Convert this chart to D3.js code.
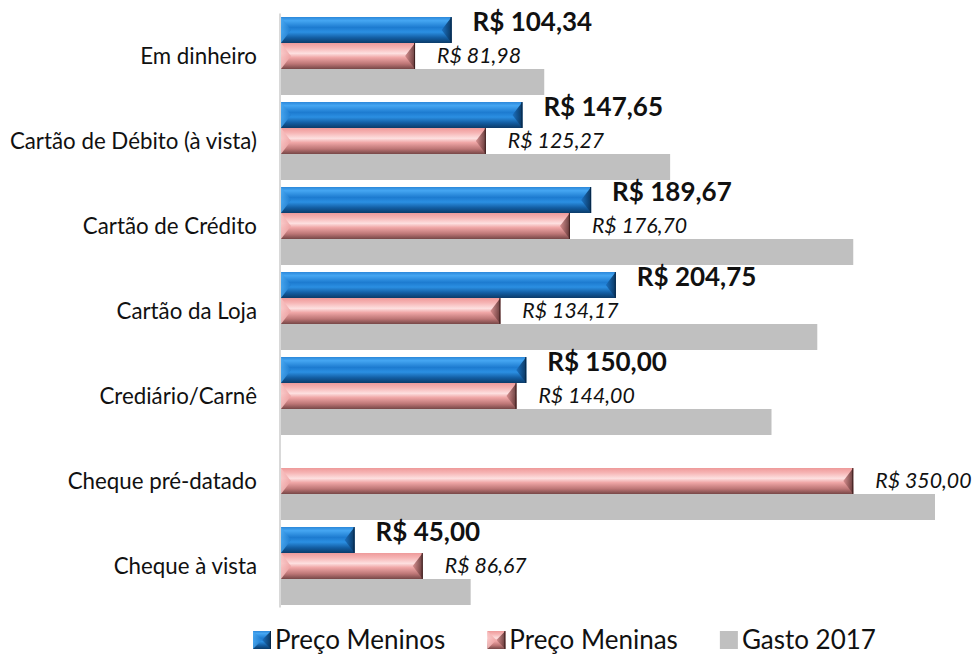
<!DOCTYPE html>
<html>
<head>
<meta charset="utf-8">
<script src="https://cdn.jsdelivr.net/npm/d3@7"></script>
<style>
  html, body { margin: 0; padding: 0; background: #fff; }
  svg { display: block; font-family: Lato, "Open Sans", sans-serif; }
</style>
</head>
<body>
<div id="chart"></div>
<script>
// data
const categories = ['Em dinheiro', 'Cartão de Débito (à vista)', 'Cartão de Crédito',
                    'Cartão da Loja', 'Crediário/Carnê', 'Cheque pré-datado', 'Cheque à vista'];
const seriesNames = ['Preço Meninos', 'Preço Meninas', 'Gasto 2017'];
const precoMeninos = [104.34, 147.65, 189.67, 204.75, 150.00, null, 45.00];
const precoMeninas = [81.98, 125.27, 176.70, 134.17, 144.00, 350.00, 86.67];
const gasto2017    = [161, 238, 350, 328, 300, 400, 116];
const xDomain = [0, 400];

const width = 975, height = 656;

const fmt = v => 'R$ ' + v.toFixed(2).replace('.', ',');

const svg = d3.select('#chart')
    .append('svg')
      .attr('width', width)
      .attr('height', height);

// gradients for the bevelled bars
const defs = svg.append('defs');
const addGrad = (id, stops, horiz) => {
    const g = defs.append('linearGradient')
        .attr('id', id)
        .attr('x1', 0).attr('y1', 0)
        .attr('x2', horiz ? 1 : 0).attr('y2', horiz ? 0 : 1);
    stops.forEach(s => g.append('stop').attr('offset', s[0]).attr('stop-color', s[1]));
};
addGrad('blueV', [[0, '#2c88da'], [0.14, '#45a6f2'], [0.4, '#1d7bd0'], [0.58, '#2b8fe2'],
                  [0.8, '#135da2'], [1, '#0b3b69']]);
addGrad('pinkV', [[0, '#ee9a9a'], [0.18, '#f6b4b4'], [0.4, '#fde0e0'], [0.56, '#efa6a6'],
                  [0.8, '#bd7676'], [1, '#774747']]);
addGrad('blueL', [[0, '#4aa8f0'], [1, '#1f7dd0']], true);
addGrad('pinkL', [[0, '#f8c4c4'], [1, '#eea2a2']], true);
addGrad('blueR', [[0, '#1a6fbf'], [1, '#082f55']], true);
addGrad('pinkR', [[0, '#d48a8a'], [1, '#5a3030']], true);

// scales
const x = d3.scaleLinear().domain(xDomain).range([281, 935]);

const y = d3.scaleBand()
    .domain(categories)
    .range([13.5, 608.5])
    .paddingInner(0.0824)
    .paddingOuter(0.0412);

const ySub = d3.scaleBand()
    .domain(seriesNames)
    .range([0, y.bandwidth()]);

// vertical axis line
svg.append('line')
    .attr('x1', 280).attr('x2', 280)
    .attr('y1', y.range()[0]).attr('y2', y.range()[1] - 1)
    .attr('stroke', '#d9d9d9')
    .attr('stroke-width', 2);

// category labels
svg.append('g')
    .selectAll('text')
    .data(categories)
    .enter()
    .append('text')
      .attr('x', 257)
      .attr('y', d => y(d) + ySub(seriesNames[1]) + ySub.bandwidth() / 2)
      .attr('dy', '0.35em')
      .attr('text-anchor', 'end')
      .style('font-size', '22.3px')
      .style('fill', '#111')
      .text(d => d);

// bevelled bar helper
const bevelBar = (g, x0, y0, w, h, key) => {
    const b = Math.min(10, w / 2);
    g.append('rect')
        .attr('x', x0).attr('y', y0)
        .attr('width', w).attr('height', h)
        .attr('fill', `url(#${key}V)`);
    g.append('path')
        .attr('d', `M${x0},${y0} L${x0 + b},${y0 + h / 2} L${x0},${y0 + h} Z`)
        .attr('fill', `url(#${key}L)`)
        .attr('opacity', 0.85);
    g.append('path')
        .attr('d', `M${x0 + w},${y0} L${x0 + w - b},${y0 + h / 2} L${x0 + w},${y0 + h} Z`)
        .attr('fill', `url(#${key}R)`)
        .attr('opacity', 0.9);
    g.append('line')
        .attr('x1', x0 + w - 0.5).attr('x2', x0 + w - 0.5)
        .attr('y1', y0).attr('y2', y0 + h)
        .attr('stroke', key === 'blue' ? '#06284a' : '#3e2020')
        .attr('stroke-width', 1);
};

const bars = svg.append('g');

// gray bars (flat)
bars.selectAll('rect.gasto')
    .data(gasto2017)
    .enter()
    .append('rect')
      .attr('class', 'gasto')
      .attr('x', x(0))
      .attr('y', (d, i) => y(categories[i]) + ySub(seriesNames[2]))
      .attr('width', d => x(d) - x(0))
      .attr('height', ySub.bandwidth())
      .attr('fill', '#c0c0c0');

// blue and pink bevelled bars
[[precoMeninos, 'blue', 0], [precoMeninas, 'pink', 1]].forEach(([vals, key, s]) => {
    vals.forEach((v, i) => {
        if (v == null) return;
        bevelBar(bars, x(0), y(categories[i]) + ySub(seriesNames[s]),
                 x(v) - x(0), ySub.bandwidth(), key);
    });
});

// value labels
const labels = svg.append('g');

labels.selectAll('text.meninos')
    .data(precoMeninos.map((v, i) => ({v, c: categories[i]})).filter(d => d.v != null))
    .enter()
    .append('text')
      .attr('class', 'meninos')
      .attr('x', d => x(d.v) + 21)
      .attr('y', d => y(d.c) + ySub(seriesNames[0]) + ySub.bandwidth() / 2 - 8)
      .attr('dy', '0.35em')
      .style('font-size', '26px')
      .style('font-weight', 'bold')
      .style('fill', '#111')
      .text(d => fmt(d.v));

labels.selectAll('text.meninas')
    .data(precoMeninas.map((v, i) => ({v, c: categories[i]})))
    .enter()
    .append('text')
      .attr('class', 'meninas')
      .attr('x', d => x(d.v) + 22)
      .attr('y', d => y(d.c) + ySub(seriesNames[1]) + ySub.bandwidth() / 2)
      .attr('dy', '0.35em')
      .style('font-size', '21.3px')
      .style('font-style', 'italic')
      .style('fill', '#111')
      .text(d => fmt(d.v));

// legend
const legend = svg.append('g').attr('transform', 'translate(253, 640)');
const sq = 18;
let lx = 0;
seriesNames.forEach((name, i) => {
    const item = legend.append('g').attr('transform', `translate(${lx}, 0)`);
    if (i < 2) {
        bevelBar(item, 0, -sq / 2, sq, sq, i === 0 ? 'blue' : 'pink');
    } else {
        item.append('rect')
            .attr('x', 0).attr('y', -sq / 2)
            .attr('width', sq).attr('height', sq)
            .attr('fill', '#c0c0c0');
    }
    const t = item.append('text')
        .attr('x', sq + 4)
        .attr('y', 0)
        .attr('dy', '0.35em')
        .style('font-size', '26px')
        .style('fill', '#111')
        .text(name);
    lx += sq + 4 + t.node().getComputedTextLength() + 42;
});
</script>
</body>
</html>
